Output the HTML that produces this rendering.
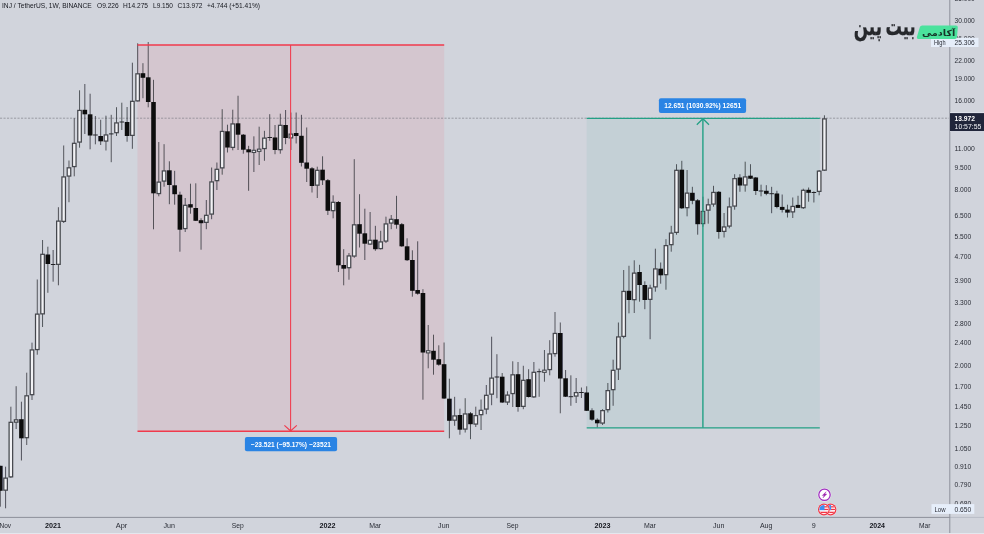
<!DOCTYPE html>
<html lang="fa"><head><meta charset="utf-8"><title>INJ / TetherUS</title>
<style>html,body{margin:0;padding:0;background:#d1d4dc;overflow:hidden}body{width:984px;height:534px;position:relative}svg{display:block;position:absolute;left:0;top:0}text{font-family:"Liberation Sans","DejaVu Sans",sans-serif}.ar{font-family:"DejaVu Sans","Liberation Sans",sans-serif;font-weight:bold}</style>
</head><body>
<svg width="984" height="534" viewBox="0 0 984 534">
<rect x="0" y="0" width="984" height="534" fill="#d1d4dc"/>
<rect x="137.5" y="45.0" width="306.7" height="386.3" fill="#f23645" fill-opacity="0.085"/>
<rect x="586.7" y="118.4" width="233.1" height="309.4" fill="#26a69a" fill-opacity="0.075"/>
<line x1="0" y1="118.2" x2="949" y2="118.2" stroke="#7d7f88" stroke-opacity="0.75" stroke-width="0.9" stroke-dasharray="2.1 1.4"/>
<filter id="sf" x="-5%" y="-5%" width="110%" height="110%"><feGaussianBlur stdDeviation="0.32"/></filter>
<g id="candles" filter="url(#sf)">
<line x1="0.30" y1="465.8" x2="0.30" y2="506.7" stroke="#26282e" stroke-opacity="0.78" stroke-width="0.95"/>
<rect x="-2.00" y="465.8" width="4.60" height="25.0" fill="#0a0a0c"/>
<line x1="5.58" y1="466.7" x2="5.58" y2="508.3" stroke="#26282e" stroke-opacity="0.78" stroke-width="0.95"/>
<rect x="3.81" y="478.12" width="3.55" height="12.05" fill="#f2f2f5" stroke="#45474d" stroke-width="1.25"/>
<line x1="10.87" y1="406.7" x2="10.87" y2="478.0" stroke="#26282e" stroke-opacity="0.78" stroke-width="0.95"/>
<rect x="9.09" y="422.32" width="3.55" height="54.55" fill="#f2f2f5" stroke="#45474d" stroke-width="1.25"/>
<line x1="16.15" y1="386.2" x2="16.15" y2="429.0" stroke="#26282e" stroke-opacity="0.78" stroke-width="0.95"/>
<rect x="14.37" y="419.82" width="3.55" height="2.35" fill="#f2f2f5" stroke="#45474d" stroke-width="1.25"/>
<line x1="21.43" y1="401.7" x2="21.43" y2="460.5" stroke="#26282e" stroke-opacity="0.78" stroke-width="0.95"/>
<rect x="19.13" y="419.2" width="4.60" height="19.1" fill="#0a0a0c"/>
<line x1="26.72" y1="372.7" x2="26.72" y2="445.0" stroke="#26282e" stroke-opacity="0.78" stroke-width="0.95"/>
<rect x="24.94" y="395.82" width="3.55" height="41.85" fill="#f2f2f5" stroke="#45474d" stroke-width="1.25"/>
<line x1="32.00" y1="342.7" x2="32.00" y2="400.0" stroke="#26282e" stroke-opacity="0.78" stroke-width="0.95"/>
<rect x="30.22" y="349.93" width="3.55" height="44.75" fill="#f2f2f5" stroke="#45474d" stroke-width="1.25"/>
<line x1="37.28" y1="279.5" x2="37.28" y2="354.7" stroke="#26282e" stroke-opacity="0.78" stroke-width="0.95"/>
<rect x="35.51" y="314.12" width="3.55" height="35.45" fill="#f2f2f5" stroke="#45474d" stroke-width="1.25"/>
<line x1="42.56" y1="240.0" x2="42.56" y2="327.0" stroke="#26282e" stroke-opacity="0.78" stroke-width="0.95"/>
<rect x="40.79" y="254.32" width="3.55" height="59.55" fill="#f2f2f5" stroke="#45474d" stroke-width="1.25"/>
<line x1="47.85" y1="246.7" x2="47.85" y2="292.8" stroke="#26282e" stroke-opacity="0.78" stroke-width="0.95"/>
<rect x="45.55" y="254.5" width="4.60" height="9.5" fill="#0a0a0c"/>
<line x1="53.13" y1="250.0" x2="53.13" y2="281.7" stroke="#26282e" stroke-opacity="0.78" stroke-width="0.95"/>
<rect x="50.83" y="264.0" width="4.60" height="1.0" fill="#222428"/>
<line x1="58.41" y1="207.2" x2="58.41" y2="285.3" stroke="#26282e" stroke-opacity="0.78" stroke-width="0.95"/>
<rect x="56.64" y="221.12" width="3.55" height="43.25" fill="#f2f2f5" stroke="#45474d" stroke-width="1.25"/>
<line x1="63.70" y1="145.5" x2="63.70" y2="223.0" stroke="#26282e" stroke-opacity="0.78" stroke-width="0.95"/>
<rect x="61.92" y="176.93" width="3.55" height="44.45" fill="#f2f2f5" stroke="#45474d" stroke-width="1.25"/>
<line x1="68.98" y1="160.5" x2="68.98" y2="202.2" stroke="#26282e" stroke-opacity="0.78" stroke-width="0.95"/>
<rect x="67.20" y="167.82" width="3.55" height="8.25" fill="#f2f2f5" stroke="#45474d" stroke-width="1.25"/>
<line x1="74.26" y1="118.2" x2="74.26" y2="176.3" stroke="#26282e" stroke-opacity="0.78" stroke-width="0.95"/>
<rect x="72.49" y="143.32" width="3.55" height="23.25" fill="#f2f2f5" stroke="#45474d" stroke-width="1.25"/>
<line x1="79.55" y1="90.3" x2="79.55" y2="147.7" stroke="#26282e" stroke-opacity="0.78" stroke-width="0.95"/>
<rect x="77.77" y="110.42" width="3.55" height="31.65" fill="#f2f2f5" stroke="#45474d" stroke-width="1.25"/>
<line x1="84.83" y1="84.0" x2="84.83" y2="134.0" stroke="#26282e" stroke-opacity="0.78" stroke-width="0.95"/>
<rect x="82.53" y="109.8" width="4.60" height="4.5" fill="#0a0a0c"/>
<line x1="90.11" y1="93.7" x2="90.11" y2="149.3" stroke="#26282e" stroke-opacity="0.78" stroke-width="0.95"/>
<rect x="87.81" y="114.3" width="4.60" height="21.2" fill="#0a0a0c"/>
<line x1="95.39" y1="116.0" x2="95.39" y2="144.3" stroke="#26282e" stroke-opacity="0.78" stroke-width="0.95"/>
<rect x="93.09" y="134.5" width="4.60" height="1.0" fill="#222428"/>
<line x1="100.68" y1="119.8" x2="100.68" y2="145.0" stroke="#26282e" stroke-opacity="0.78" stroke-width="0.95"/>
<rect x="98.38" y="136.0" width="4.60" height="5.3" fill="#0a0a0c"/>
<line x1="105.96" y1="115.7" x2="105.96" y2="150.5" stroke="#26282e" stroke-opacity="0.78" stroke-width="0.95"/>
<rect x="104.19" y="134.93" width="3.55" height="6.15" fill="#f2f2f5" stroke="#45474d" stroke-width="1.25"/>
<line x1="111.24" y1="114.8" x2="111.24" y2="162.2" stroke="#26282e" stroke-opacity="0.78" stroke-width="0.95"/>
<rect x="108.94" y="133.4" width="4.60" height="1.0" fill="#222428"/>
<line x1="116.53" y1="107.2" x2="116.53" y2="136.0" stroke="#26282e" stroke-opacity="0.78" stroke-width="0.95"/>
<rect x="114.75" y="122.92" width="3.55" height="9.75" fill="#f2f2f5" stroke="#45474d" stroke-width="1.25"/>
<line x1="121.81" y1="102.7" x2="121.81" y2="130.0" stroke="#26282e" stroke-opacity="0.78" stroke-width="0.95"/>
<rect x="119.51" y="121.5" width="4.60" height="1.0" fill="#222428"/>
<line x1="127.09" y1="107.0" x2="127.09" y2="141.7" stroke="#26282e" stroke-opacity="0.78" stroke-width="0.95"/>
<rect x="124.79" y="122.0" width="4.60" height="14.0" fill="#0a0a0c"/>
<line x1="132.38" y1="62.7" x2="132.38" y2="148.8" stroke="#26282e" stroke-opacity="0.78" stroke-width="0.95"/>
<rect x="130.60" y="101.33" width="3.55" height="34.05" fill="#f2f2f5" stroke="#45474d" stroke-width="1.25"/>
<line x1="137.66" y1="43.3" x2="137.66" y2="101.5" stroke="#26282e" stroke-opacity="0.78" stroke-width="0.95"/>
<rect x="135.88" y="73.83" width="3.55" height="27.05" fill="#f2f2f5" stroke="#45474d" stroke-width="1.25"/>
<line x1="142.94" y1="63.2" x2="142.94" y2="98.2" stroke="#26282e" stroke-opacity="0.78" stroke-width="0.95"/>
<rect x="140.64" y="73.2" width="4.60" height="4.6" fill="#0a0a0c"/>
<line x1="148.22" y1="42.0" x2="148.22" y2="107.3" stroke="#26282e" stroke-opacity="0.78" stroke-width="0.95"/>
<rect x="145.92" y="77.3" width="4.60" height="24.7" fill="#0a0a0c"/>
<line x1="153.51" y1="79.8" x2="153.51" y2="229.3" stroke="#26282e" stroke-opacity="0.78" stroke-width="0.95"/>
<rect x="151.21" y="102.0" width="4.60" height="91.3" fill="#0a0a0c"/>
<line x1="158.79" y1="142.0" x2="158.79" y2="196.3" stroke="#26282e" stroke-opacity="0.78" stroke-width="0.95"/>
<rect x="157.02" y="182.12" width="3.55" height="11.45" fill="#f2f2f5" stroke="#45474d" stroke-width="1.25"/>
<line x1="164.07" y1="144.2" x2="164.07" y2="186.7" stroke="#26282e" stroke-opacity="0.78" stroke-width="0.95"/>
<rect x="162.30" y="170.93" width="3.55" height="10.15" fill="#f2f2f5" stroke="#45474d" stroke-width="1.25"/>
<line x1="169.36" y1="161.3" x2="169.36" y2="204.2" stroke="#26282e" stroke-opacity="0.78" stroke-width="0.95"/>
<rect x="167.06" y="170.3" width="4.60" height="14.7" fill="#0a0a0c"/>
<line x1="174.64" y1="170.8" x2="174.64" y2="204.7" stroke="#26282e" stroke-opacity="0.78" stroke-width="0.95"/>
<rect x="172.34" y="185.3" width="4.60" height="8.9" fill="#0a0a0c"/>
<line x1="179.92" y1="191.7" x2="179.92" y2="251.7" stroke="#26282e" stroke-opacity="0.78" stroke-width="0.95"/>
<rect x="177.62" y="194.7" width="4.60" height="35.0" fill="#0a0a0c"/>
<line x1="185.21" y1="198.0" x2="185.21" y2="232.0" stroke="#26282e" stroke-opacity="0.78" stroke-width="0.95"/>
<rect x="183.43" y="205.32" width="3.55" height="23.25" fill="#f2f2f5" stroke="#45474d" stroke-width="1.25"/>
<line x1="190.49" y1="183.7" x2="190.49" y2="213.7" stroke="#26282e" stroke-opacity="0.78" stroke-width="0.95"/>
<rect x="188.19" y="204.2" width="4.60" height="3.3" fill="#0a0a0c"/>
<line x1="195.77" y1="183.3" x2="195.77" y2="221.0" stroke="#26282e" stroke-opacity="0.78" stroke-width="0.95"/>
<rect x="193.47" y="208.0" width="4.60" height="12.8" fill="#0a0a0c"/>
<line x1="201.05" y1="218.3" x2="201.05" y2="249.7" stroke="#26282e" stroke-opacity="0.78" stroke-width="0.95"/>
<rect x="198.75" y="220.2" width="4.60" height="3.0" fill="#0a0a0c"/>
<line x1="206.34" y1="200.0" x2="206.34" y2="229.2" stroke="#26282e" stroke-opacity="0.78" stroke-width="0.95"/>
<rect x="204.56" y="215.32" width="3.55" height="7.05" fill="#f2f2f5" stroke="#45474d" stroke-width="1.25"/>
<line x1="211.62" y1="167.5" x2="211.62" y2="219.2" stroke="#26282e" stroke-opacity="0.78" stroke-width="0.95"/>
<rect x="209.85" y="181.93" width="3.55" height="32.15" fill="#f2f2f5" stroke="#45474d" stroke-width="1.25"/>
<line x1="216.90" y1="162.5" x2="216.90" y2="190.0" stroke="#26282e" stroke-opacity="0.78" stroke-width="0.95"/>
<rect x="215.13" y="169.32" width="3.55" height="11.35" fill="#f2f2f5" stroke="#45474d" stroke-width="1.25"/>
<line x1="222.19" y1="109.2" x2="222.19" y2="174.7" stroke="#26282e" stroke-opacity="0.78" stroke-width="0.95"/>
<rect x="220.41" y="131.43" width="3.55" height="36.45" fill="#f2f2f5" stroke="#45474d" stroke-width="1.25"/>
<line x1="227.47" y1="124.7" x2="227.47" y2="152.5" stroke="#26282e" stroke-opacity="0.78" stroke-width="0.95"/>
<rect x="225.17" y="131.3" width="4.60" height="16.2" fill="#0a0a0c"/>
<line x1="232.75" y1="109.7" x2="232.75" y2="150.3" stroke="#26282e" stroke-opacity="0.78" stroke-width="0.95"/>
<rect x="230.98" y="123.92" width="3.55" height="23.45" fill="#f2f2f5" stroke="#45474d" stroke-width="1.25"/>
<line x1="238.04" y1="95.8" x2="238.04" y2="150.0" stroke="#26282e" stroke-opacity="0.78" stroke-width="0.95"/>
<rect x="235.74" y="123.3" width="4.60" height="11.4" fill="#0a0a0c"/>
<line x1="243.32" y1="134.0" x2="243.32" y2="153.7" stroke="#26282e" stroke-opacity="0.78" stroke-width="0.95"/>
<rect x="241.02" y="134.7" width="4.60" height="15.0" fill="#0a0a0c"/>
<line x1="248.60" y1="145.8" x2="248.60" y2="190.8" stroke="#26282e" stroke-opacity="0.78" stroke-width="0.95"/>
<rect x="246.30" y="149.3" width="4.60" height="3.0" fill="#0a0a0c"/>
<line x1="253.88" y1="136.3" x2="253.88" y2="172.0" stroke="#26282e" stroke-opacity="0.78" stroke-width="0.95"/>
<rect x="252.13" y="150.30" width="3.50" height="2.20" fill="#f2f2f5" stroke="#45474d" stroke-width="1.10"/>
<line x1="259.17" y1="126.7" x2="259.17" y2="165.0" stroke="#26282e" stroke-opacity="0.78" stroke-width="0.95"/>
<rect x="257.42" y="149.15" width="3.50" height="2.20" fill="#f2f2f5" stroke="#45474d" stroke-width="1.10"/>
<line x1="264.45" y1="130.8" x2="264.45" y2="160.8" stroke="#26282e" stroke-opacity="0.78" stroke-width="0.95"/>
<rect x="262.68" y="138.12" width="3.55" height="10.45" fill="#f2f2f5" stroke="#45474d" stroke-width="1.25"/>
<line x1="269.73" y1="114.2" x2="269.73" y2="140.8" stroke="#26282e" stroke-opacity="0.78" stroke-width="0.95"/>
<rect x="267.43" y="137.0" width="4.60" height="1.0" fill="#222428"/>
<line x1="275.02" y1="125.0" x2="275.02" y2="154.2" stroke="#26282e" stroke-opacity="0.78" stroke-width="0.95"/>
<rect x="272.72" y="137.5" width="4.60" height="12.5" fill="#0a0a0c"/>
<line x1="280.30" y1="113.7" x2="280.30" y2="153.7" stroke="#26282e" stroke-opacity="0.78" stroke-width="0.95"/>
<rect x="278.52" y="125.33" width="3.55" height="24.35" fill="#f2f2f5" stroke="#45474d" stroke-width="1.25"/>
<line x1="285.58" y1="110.0" x2="285.58" y2="144.2" stroke="#26282e" stroke-opacity="0.78" stroke-width="0.95"/>
<rect x="283.28" y="125.0" width="4.60" height="13.0" fill="#0a0a0c"/>
<line x1="290.87" y1="112.5" x2="290.87" y2="150.0" stroke="#26282e" stroke-opacity="0.78" stroke-width="0.95"/>
<rect x="289.09" y="134.12" width="3.55" height="3.75" fill="#f2f2f5" stroke="#45474d" stroke-width="1.25"/>
<line x1="296.15" y1="112.5" x2="296.15" y2="143.5" stroke="#26282e" stroke-opacity="0.78" stroke-width="0.95"/>
<rect x="293.85" y="133.0" width="4.60" height="3.0" fill="#0a0a0c"/>
<line x1="301.43" y1="114.8" x2="301.43" y2="166.5" stroke="#26282e" stroke-opacity="0.78" stroke-width="0.95"/>
<rect x="299.13" y="135.8" width="4.60" height="27.0" fill="#0a0a0c"/>
<line x1="306.71" y1="127.5" x2="306.71" y2="182.0" stroke="#26282e" stroke-opacity="0.78" stroke-width="0.95"/>
<rect x="304.41" y="162.5" width="4.60" height="6.2" fill="#0a0a0c"/>
<line x1="312.00" y1="167.0" x2="312.00" y2="192.5" stroke="#26282e" stroke-opacity="0.78" stroke-width="0.95"/>
<rect x="309.70" y="168.3" width="4.60" height="17.7" fill="#0a0a0c"/>
<line x1="317.28" y1="166.7" x2="317.28" y2="198.0" stroke="#26282e" stroke-opacity="0.78" stroke-width="0.95"/>
<rect x="315.51" y="170.32" width="3.55" height="14.85" fill="#f2f2f5" stroke="#45474d" stroke-width="1.25"/>
<line x1="322.56" y1="156.3" x2="322.56" y2="185.0" stroke="#26282e" stroke-opacity="0.78" stroke-width="0.95"/>
<rect x="320.26" y="169.7" width="4.60" height="10.6" fill="#0a0a0c"/>
<line x1="327.85" y1="179.0" x2="327.85" y2="215.0" stroke="#26282e" stroke-opacity="0.78" stroke-width="0.95"/>
<rect x="325.55" y="180.2" width="4.60" height="30.6" fill="#0a0a0c"/>
<line x1="333.13" y1="195.3" x2="333.13" y2="218.3" stroke="#26282e" stroke-opacity="0.78" stroke-width="0.95"/>
<rect x="331.35" y="202.32" width="3.55" height="8.35" fill="#f2f2f5" stroke="#45474d" stroke-width="1.25"/>
<line x1="338.41" y1="201.0" x2="338.41" y2="272.0" stroke="#26282e" stroke-opacity="0.78" stroke-width="0.95"/>
<rect x="336.11" y="202.0" width="4.60" height="63.3" fill="#0a0a0c"/>
<line x1="343.70" y1="249.2" x2="343.70" y2="285.3" stroke="#26282e" stroke-opacity="0.78" stroke-width="0.95"/>
<rect x="341.40" y="265.0" width="4.60" height="3.7" fill="#0a0a0c"/>
<line x1="348.98" y1="253.0" x2="348.98" y2="279.7" stroke="#26282e" stroke-opacity="0.78" stroke-width="0.95"/>
<rect x="347.20" y="255.93" width="3.55" height="11.75" fill="#f2f2f5" stroke="#45474d" stroke-width="1.25"/>
<line x1="354.26" y1="159.2" x2="354.26" y2="257.8" stroke="#26282e" stroke-opacity="0.78" stroke-width="0.95"/>
<rect x="352.49" y="224.82" width="3.55" height="31.25" fill="#f2f2f5" stroke="#45474d" stroke-width="1.25"/>
<line x1="359.54" y1="194.2" x2="359.54" y2="247.5" stroke="#26282e" stroke-opacity="0.78" stroke-width="0.95"/>
<rect x="357.24" y="224.2" width="4.60" height="9.5" fill="#0a0a0c"/>
<line x1="364.83" y1="208.7" x2="364.83" y2="260.0" stroke="#26282e" stroke-opacity="0.78" stroke-width="0.95"/>
<rect x="362.53" y="233.3" width="4.60" height="10.4" fill="#0a0a0c"/>
<line x1="370.11" y1="212.0" x2="370.11" y2="245.0" stroke="#26282e" stroke-opacity="0.78" stroke-width="0.95"/>
<rect x="368.34" y="240.32" width="3.55" height="3.75" fill="#f2f2f5" stroke="#45474d" stroke-width="1.25"/>
<line x1="375.39" y1="225.8" x2="375.39" y2="250.8" stroke="#26282e" stroke-opacity="0.78" stroke-width="0.95"/>
<rect x="373.09" y="239.7" width="4.60" height="9.5" fill="#0a0a0c"/>
<line x1="380.68" y1="230.8" x2="380.68" y2="249.5" stroke="#26282e" stroke-opacity="0.78" stroke-width="0.95"/>
<rect x="378.90" y="241.93" width="3.55" height="6.65" fill="#f2f2f5" stroke="#45474d" stroke-width="1.25"/>
<line x1="385.96" y1="216.7" x2="385.96" y2="243.0" stroke="#26282e" stroke-opacity="0.78" stroke-width="0.95"/>
<rect x="384.18" y="223.93" width="3.55" height="17.15" fill="#f2f2f5" stroke="#45474d" stroke-width="1.25"/>
<line x1="391.24" y1="215.0" x2="391.24" y2="229.2" stroke="#26282e" stroke-opacity="0.78" stroke-width="0.95"/>
<rect x="389.47" y="219.32" width="3.55" height="3.75" fill="#f2f2f5" stroke="#45474d" stroke-width="1.25"/>
<line x1="396.53" y1="195.8" x2="396.53" y2="228.7" stroke="#26282e" stroke-opacity="0.78" stroke-width="0.95"/>
<rect x="394.23" y="219.2" width="4.60" height="5.5" fill="#0a0a0c"/>
<line x1="401.81" y1="223.0" x2="401.81" y2="247.0" stroke="#26282e" stroke-opacity="0.78" stroke-width="0.95"/>
<rect x="399.51" y="224.2" width="4.60" height="22.1" fill="#0a0a0c"/>
<line x1="407.09" y1="238.3" x2="407.09" y2="261.0" stroke="#26282e" stroke-opacity="0.78" stroke-width="0.95"/>
<rect x="404.79" y="246.3" width="4.60" height="13.9" fill="#0a0a0c"/>
<line x1="412.37" y1="250.3" x2="412.37" y2="296.7" stroke="#26282e" stroke-opacity="0.78" stroke-width="0.95"/>
<rect x="410.07" y="260.0" width="4.60" height="30.8" fill="#0a0a0c"/>
<line x1="417.66" y1="241.3" x2="417.66" y2="294.7" stroke="#26282e" stroke-opacity="0.78" stroke-width="0.95"/>
<rect x="415.36" y="290.0" width="4.60" height="3.7" fill="#0a0a0c"/>
<line x1="422.94" y1="289.2" x2="422.94" y2="399.7" stroke="#26282e" stroke-opacity="0.78" stroke-width="0.95"/>
<rect x="420.64" y="293.0" width="4.60" height="59.5" fill="#0a0a0c"/>
<line x1="428.22" y1="325.0" x2="428.22" y2="368.3" stroke="#26282e" stroke-opacity="0.78" stroke-width="0.95"/>
<rect x="426.47" y="350.70" width="3.50" height="2.20" fill="#f2f2f5" stroke="#45474d" stroke-width="1.10"/>
<line x1="433.51" y1="334.7" x2="433.51" y2="374.7" stroke="#26282e" stroke-opacity="0.78" stroke-width="0.95"/>
<rect x="431.21" y="350.8" width="4.60" height="8.9" fill="#0a0a0c"/>
<line x1="438.79" y1="345.3" x2="438.79" y2="365.8" stroke="#26282e" stroke-opacity="0.78" stroke-width="0.95"/>
<rect x="436.49" y="359.2" width="4.60" height="5.5" fill="#0a0a0c"/>
<line x1="444.07" y1="342.5" x2="444.07" y2="399.0" stroke="#26282e" stroke-opacity="0.78" stroke-width="0.95"/>
<rect x="441.77" y="364.2" width="4.60" height="34.3" fill="#0a0a0c"/>
<line x1="449.36" y1="378.7" x2="449.36" y2="438.3" stroke="#26282e" stroke-opacity="0.78" stroke-width="0.95"/>
<rect x="447.06" y="398.7" width="4.60" height="22.1" fill="#0a0a0c"/>
<line x1="454.64" y1="396.8" x2="454.64" y2="425.8" stroke="#26282e" stroke-opacity="0.78" stroke-width="0.95"/>
<rect x="452.86" y="415.93" width="3.55" height="4.25" fill="#f2f2f5" stroke="#45474d" stroke-width="1.25"/>
<line x1="459.92" y1="408.7" x2="459.92" y2="434.7" stroke="#26282e" stroke-opacity="0.78" stroke-width="0.95"/>
<rect x="457.62" y="415.0" width="4.60" height="14.7" fill="#0a0a0c"/>
<line x1="465.20" y1="398.2" x2="465.20" y2="432.5" stroke="#26282e" stroke-opacity="0.78" stroke-width="0.95"/>
<rect x="463.43" y="413.93" width="3.55" height="15.15" fill="#f2f2f5" stroke="#45474d" stroke-width="1.25"/>
<line x1="470.49" y1="412.0" x2="470.49" y2="439.2" stroke="#26282e" stroke-opacity="0.78" stroke-width="0.95"/>
<rect x="468.19" y="413.3" width="4.60" height="10.9" fill="#0a0a0c"/>
<line x1="475.77" y1="406.7" x2="475.77" y2="427.0" stroke="#26282e" stroke-opacity="0.78" stroke-width="0.95"/>
<rect x="474.00" y="415.62" width="3.55" height="8.45" fill="#f2f2f5" stroke="#45474d" stroke-width="1.25"/>
<line x1="481.05" y1="399.5" x2="481.05" y2="430.0" stroke="#26282e" stroke-opacity="0.78" stroke-width="0.95"/>
<rect x="479.28" y="410.32" width="3.55" height="4.35" fill="#f2f2f5" stroke="#45474d" stroke-width="1.25"/>
<line x1="486.34" y1="385.0" x2="486.34" y2="414.2" stroke="#26282e" stroke-opacity="0.78" stroke-width="0.95"/>
<rect x="484.56" y="395.32" width="3.55" height="13.75" fill="#f2f2f5" stroke="#45474d" stroke-width="1.25"/>
<line x1="491.62" y1="336.7" x2="491.62" y2="405.2" stroke="#26282e" stroke-opacity="0.78" stroke-width="0.95"/>
<rect x="489.84" y="378.12" width="3.55" height="16.05" fill="#f2f2f5" stroke="#45474d" stroke-width="1.25"/>
<line x1="496.90" y1="354.2" x2="496.90" y2="398.2" stroke="#26282e" stroke-opacity="0.78" stroke-width="0.95"/>
<rect x="494.60" y="376.5" width="4.60" height="1.0" fill="#222428"/>
<line x1="502.19" y1="373.0" x2="502.19" y2="403.0" stroke="#26282e" stroke-opacity="0.78" stroke-width="0.95"/>
<rect x="499.89" y="376.7" width="4.60" height="25.8" fill="#0a0a0c"/>
<line x1="507.47" y1="391.3" x2="507.47" y2="405.0" stroke="#26282e" stroke-opacity="0.78" stroke-width="0.95"/>
<rect x="505.69" y="395.12" width="3.55" height="6.95" fill="#f2f2f5" stroke="#45474d" stroke-width="1.25"/>
<line x1="512.75" y1="361.3" x2="512.75" y2="407.0" stroke="#26282e" stroke-opacity="0.78" stroke-width="0.95"/>
<rect x="510.98" y="374.82" width="3.55" height="18.75" fill="#f2f2f5" stroke="#45474d" stroke-width="1.25"/>
<line x1="518.03" y1="362.0" x2="518.03" y2="411.7" stroke="#26282e" stroke-opacity="0.78" stroke-width="0.95"/>
<rect x="515.73" y="374.2" width="4.60" height="32.8" fill="#0a0a0c"/>
<line x1="523.32" y1="365.8" x2="523.32" y2="409.2" stroke="#26282e" stroke-opacity="0.78" stroke-width="0.95"/>
<rect x="521.54" y="380.32" width="3.55" height="26.05" fill="#f2f2f5" stroke="#45474d" stroke-width="1.25"/>
<line x1="528.60" y1="369.2" x2="528.60" y2="397.5" stroke="#26282e" stroke-opacity="0.78" stroke-width="0.95"/>
<rect x="526.30" y="379.2" width="4.60" height="17.8" fill="#0a0a0c"/>
<line x1="533.88" y1="362.0" x2="533.88" y2="398.0" stroke="#26282e" stroke-opacity="0.78" stroke-width="0.95"/>
<rect x="532.11" y="372.32" width="3.55" height="24.55" fill="#f2f2f5" stroke="#45474d" stroke-width="1.25"/>
<line x1="539.17" y1="368.7" x2="539.17" y2="396.8" stroke="#26282e" stroke-opacity="0.78" stroke-width="0.95"/>
<rect x="536.87" y="371.2" width="4.60" height="1.0" fill="#222428"/>
<line x1="544.45" y1="350.0" x2="544.45" y2="381.7" stroke="#26282e" stroke-opacity="0.78" stroke-width="0.95"/>
<rect x="542.70" y="370.15" width="3.50" height="2.20" fill="#f2f2f5" stroke="#45474d" stroke-width="1.10"/>
<line x1="549.73" y1="340.2" x2="549.73" y2="375.3" stroke="#26282e" stroke-opacity="0.78" stroke-width="0.95"/>
<rect x="547.96" y="353.93" width="3.55" height="15.65" fill="#f2f2f5" stroke="#45474d" stroke-width="1.25"/>
<line x1="555.01" y1="312.0" x2="555.01" y2="356.7" stroke="#26282e" stroke-opacity="0.78" stroke-width="0.95"/>
<rect x="553.24" y="333.43" width="3.55" height="20.15" fill="#f2f2f5" stroke="#45474d" stroke-width="1.25"/>
<line x1="560.30" y1="322.5" x2="560.30" y2="413.3" stroke="#26282e" stroke-opacity="0.78" stroke-width="0.95"/>
<rect x="558.00" y="333.0" width="4.60" height="45.5" fill="#0a0a0c"/>
<line x1="565.58" y1="370.0" x2="565.58" y2="397.0" stroke="#26282e" stroke-opacity="0.78" stroke-width="0.95"/>
<rect x="563.28" y="378.3" width="4.60" height="18.4" fill="#0a0a0c"/>
<line x1="570.86" y1="375.3" x2="570.86" y2="405.8" stroke="#26282e" stroke-opacity="0.78" stroke-width="0.95"/>
<rect x="568.56" y="396.2" width="4.60" height="1.0" fill="#222428"/>
<line x1="576.15" y1="378.0" x2="576.15" y2="403.0" stroke="#26282e" stroke-opacity="0.78" stroke-width="0.95"/>
<rect x="574.37" y="392.62" width="3.55" height="3.45" fill="#f2f2f5" stroke="#45474d" stroke-width="1.25"/>
<line x1="581.43" y1="387.5" x2="581.43" y2="398.0" stroke="#26282e" stroke-opacity="0.78" stroke-width="0.95"/>
<rect x="579.13" y="392.0" width="4.60" height="1.0" fill="#222428"/>
<line x1="586.71" y1="386.3" x2="586.71" y2="411.0" stroke="#26282e" stroke-opacity="0.78" stroke-width="0.95"/>
<rect x="584.41" y="392.5" width="4.60" height="18.3" fill="#0a0a0c"/>
<line x1="592.00" y1="408.3" x2="592.00" y2="420.8" stroke="#26282e" stroke-opacity="0.78" stroke-width="0.95"/>
<rect x="589.70" y="410.3" width="4.60" height="9.4" fill="#0a0a0c"/>
<line x1="597.28" y1="418.3" x2="597.28" y2="427.5" stroke="#26282e" stroke-opacity="0.78" stroke-width="0.95"/>
<rect x="594.98" y="419.7" width="4.60" height="3.6" fill="#0a0a0c"/>
<line x1="602.56" y1="409.2" x2="602.56" y2="425.0" stroke="#26282e" stroke-opacity="0.78" stroke-width="0.95"/>
<rect x="600.79" y="410.62" width="3.55" height="12.45" fill="#f2f2f5" stroke="#45474d" stroke-width="1.25"/>
<line x1="607.85" y1="383.0" x2="607.85" y2="412.5" stroke="#26282e" stroke-opacity="0.78" stroke-width="0.95"/>
<rect x="606.07" y="390.62" width="3.55" height="19.05" fill="#f2f2f5" stroke="#45474d" stroke-width="1.25"/>
<line x1="613.13" y1="359.7" x2="613.13" y2="405.8" stroke="#26282e" stroke-opacity="0.78" stroke-width="0.95"/>
<rect x="611.35" y="370.32" width="3.55" height="19.35" fill="#f2f2f5" stroke="#45474d" stroke-width="1.25"/>
<line x1="618.41" y1="322.5" x2="618.41" y2="380.0" stroke="#26282e" stroke-opacity="0.78" stroke-width="0.95"/>
<rect x="616.64" y="336.93" width="3.55" height="32.15" fill="#f2f2f5" stroke="#45474d" stroke-width="1.25"/>
<line x1="623.69" y1="270.0" x2="623.69" y2="338.3" stroke="#26282e" stroke-opacity="0.78" stroke-width="0.95"/>
<rect x="621.92" y="291.43" width="3.55" height="44.95" fill="#f2f2f5" stroke="#45474d" stroke-width="1.25"/>
<line x1="628.98" y1="265.8" x2="628.98" y2="313.3" stroke="#26282e" stroke-opacity="0.78" stroke-width="0.95"/>
<rect x="626.68" y="290.8" width="4.60" height="9.2" fill="#0a0a0c"/>
<line x1="634.26" y1="260.3" x2="634.26" y2="313.0" stroke="#26282e" stroke-opacity="0.78" stroke-width="0.95"/>
<rect x="632.49" y="273.12" width="3.55" height="26.55" fill="#f2f2f5" stroke="#45474d" stroke-width="1.25"/>
<line x1="639.54" y1="264.8" x2="639.54" y2="301.7" stroke="#26282e" stroke-opacity="0.78" stroke-width="0.95"/>
<rect x="637.24" y="272.0" width="4.60" height="13.0" fill="#0a0a0c"/>
<line x1="644.83" y1="281.3" x2="644.83" y2="309.2" stroke="#26282e" stroke-opacity="0.78" stroke-width="0.95"/>
<rect x="642.53" y="285.0" width="4.60" height="15.0" fill="#0a0a0c"/>
<line x1="650.11" y1="284.7" x2="650.11" y2="339.2" stroke="#26282e" stroke-opacity="0.78" stroke-width="0.95"/>
<rect x="648.33" y="288.12" width="3.55" height="11.25" fill="#f2f2f5" stroke="#45474d" stroke-width="1.25"/>
<line x1="655.39" y1="248.7" x2="655.39" y2="291.7" stroke="#26282e" stroke-opacity="0.78" stroke-width="0.95"/>
<rect x="653.62" y="268.93" width="3.55" height="17.95" fill="#f2f2f5" stroke="#45474d" stroke-width="1.25"/>
<line x1="660.67" y1="262.5" x2="660.67" y2="283.7" stroke="#26282e" stroke-opacity="0.78" stroke-width="0.95"/>
<rect x="658.38" y="268.7" width="4.60" height="6.6" fill="#0a0a0c"/>
<line x1="665.96" y1="239.2" x2="665.96" y2="289.7" stroke="#26282e" stroke-opacity="0.78" stroke-width="0.95"/>
<rect x="664.18" y="245.62" width="3.55" height="29.05" fill="#f2f2f5" stroke="#45474d" stroke-width="1.25"/>
<line x1="671.24" y1="225.8" x2="671.24" y2="251.7" stroke="#26282e" stroke-opacity="0.78" stroke-width="0.95"/>
<rect x="669.47" y="233.12" width="3.55" height="11.55" fill="#f2f2f5" stroke="#45474d" stroke-width="1.25"/>
<line x1="676.52" y1="164.2" x2="676.52" y2="234.7" stroke="#26282e" stroke-opacity="0.78" stroke-width="0.95"/>
<rect x="674.75" y="170.32" width="3.55" height="62.05" fill="#f2f2f5" stroke="#45474d" stroke-width="1.25"/>
<line x1="681.81" y1="160.8" x2="681.81" y2="209.0" stroke="#26282e" stroke-opacity="0.78" stroke-width="0.95"/>
<rect x="679.51" y="169.7" width="4.60" height="38.6" fill="#0a0a0c"/>
<line x1="687.09" y1="170.0" x2="687.09" y2="216.3" stroke="#26282e" stroke-opacity="0.78" stroke-width="0.95"/>
<rect x="685.32" y="193.12" width="3.55" height="14.55" fill="#f2f2f5" stroke="#45474d" stroke-width="1.25"/>
<line x1="692.37" y1="186.8" x2="692.37" y2="204.2" stroke="#26282e" stroke-opacity="0.78" stroke-width="0.95"/>
<rect x="690.07" y="192.8" width="4.60" height="8.0" fill="#0a0a0c"/>
<line x1="697.66" y1="199.0" x2="697.66" y2="234.7" stroke="#26282e" stroke-opacity="0.78" stroke-width="0.95"/>
<rect x="695.36" y="200.3" width="4.60" height="23.9" fill="#0a0a0c"/>
<line x1="702.94" y1="196.7" x2="702.94" y2="226.7" stroke="#26282e" stroke-opacity="0.78" stroke-width="0.95"/>
<rect x="701.16" y="211.43" width="3.55" height="12.15" fill="#f2f2f5" stroke="#45474d" stroke-width="1.25"/>
<line x1="708.22" y1="198.7" x2="708.22" y2="223.7" stroke="#26282e" stroke-opacity="0.78" stroke-width="0.95"/>
<rect x="706.45" y="204.82" width="3.55" height="5.35" fill="#f2f2f5" stroke="#45474d" stroke-width="1.25"/>
<line x1="713.50" y1="185.8" x2="713.50" y2="206.7" stroke="#26282e" stroke-opacity="0.78" stroke-width="0.95"/>
<rect x="711.73" y="192.43" width="3.55" height="11.65" fill="#f2f2f5" stroke="#45474d" stroke-width="1.25"/>
<line x1="718.79" y1="191.0" x2="718.79" y2="238.7" stroke="#26282e" stroke-opacity="0.78" stroke-width="0.95"/>
<rect x="716.49" y="191.8" width="4.60" height="40.2" fill="#0a0a0c"/>
<line x1="724.07" y1="213.0" x2="724.07" y2="237.5" stroke="#26282e" stroke-opacity="0.78" stroke-width="0.95"/>
<rect x="722.30" y="226.93" width="3.55" height="4.45" fill="#f2f2f5" stroke="#45474d" stroke-width="1.25"/>
<line x1="729.35" y1="197.5" x2="729.35" y2="228.3" stroke="#26282e" stroke-opacity="0.78" stroke-width="0.95"/>
<rect x="727.58" y="206.93" width="3.55" height="19.15" fill="#f2f2f5" stroke="#45474d" stroke-width="1.25"/>
<line x1="734.64" y1="174.2" x2="734.64" y2="209.7" stroke="#26282e" stroke-opacity="0.78" stroke-width="0.95"/>
<rect x="732.86" y="178.62" width="3.55" height="27.45" fill="#f2f2f5" stroke="#45474d" stroke-width="1.25"/>
<line x1="739.92" y1="174.2" x2="739.92" y2="191.8" stroke="#26282e" stroke-opacity="0.78" stroke-width="0.95"/>
<rect x="737.62" y="177.5" width="4.60" height="8.0" fill="#0a0a0c"/>
<line x1="745.20" y1="161.7" x2="745.20" y2="191.7" stroke="#26282e" stroke-opacity="0.78" stroke-width="0.95"/>
<rect x="743.43" y="176.93" width="3.55" height="8.05" fill="#f2f2f5" stroke="#45474d" stroke-width="1.25"/>
<line x1="750.49" y1="164.2" x2="750.49" y2="179.0" stroke="#26282e" stroke-opacity="0.78" stroke-width="0.95"/>
<rect x="748.19" y="175.7" width="4.60" height="3.0" fill="#0a0a0c"/>
<line x1="755.77" y1="177.0" x2="755.77" y2="195.0" stroke="#26282e" stroke-opacity="0.78" stroke-width="0.95"/>
<rect x="753.47" y="177.5" width="4.60" height="13.5" fill="#0a0a0c"/>
<line x1="761.05" y1="184.7" x2="761.05" y2="196.3" stroke="#26282e" stroke-opacity="0.78" stroke-width="0.95"/>
<rect x="758.75" y="190.5" width="4.60" height="1.0" fill="#222428"/>
<line x1="766.34" y1="185.2" x2="766.34" y2="195.2" stroke="#26282e" stroke-opacity="0.78" stroke-width="0.95"/>
<rect x="764.04" y="190.8" width="4.60" height="3.0" fill="#0a0a0c"/>
<line x1="771.62" y1="186.8" x2="771.62" y2="213.2" stroke="#26282e" stroke-opacity="0.78" stroke-width="0.95"/>
<rect x="769.32" y="193.2" width="4.60" height="1.0" fill="#222428"/>
<line x1="776.90" y1="190.8" x2="776.90" y2="208.3" stroke="#26282e" stroke-opacity="0.78" stroke-width="0.95"/>
<rect x="774.60" y="193.5" width="4.60" height="13.5" fill="#0a0a0c"/>
<line x1="782.18" y1="194.5" x2="782.18" y2="212.5" stroke="#26282e" stroke-opacity="0.78" stroke-width="0.95"/>
<rect x="779.88" y="206.9" width="4.60" height="3.0" fill="#0a0a0c"/>
<line x1="787.47" y1="204.7" x2="787.47" y2="217.5" stroke="#26282e" stroke-opacity="0.78" stroke-width="0.95"/>
<rect x="785.17" y="209.6" width="4.60" height="3.0" fill="#0a0a0c"/>
<line x1="792.75" y1="197.5" x2="792.75" y2="218.0" stroke="#26282e" stroke-opacity="0.78" stroke-width="0.95"/>
<rect x="790.98" y="206.43" width="3.55" height="5.45" fill="#f2f2f5" stroke="#45474d" stroke-width="1.25"/>
<line x1="798.03" y1="195.8" x2="798.03" y2="208.0" stroke="#26282e" stroke-opacity="0.78" stroke-width="0.95"/>
<rect x="795.73" y="204.9" width="4.60" height="3.0" fill="#0a0a0c"/>
<line x1="803.32" y1="188.7" x2="803.32" y2="209.0" stroke="#26282e" stroke-opacity="0.78" stroke-width="0.95"/>
<rect x="801.54" y="190.32" width="3.55" height="17.35" fill="#f2f2f5" stroke="#45474d" stroke-width="1.25"/>
<line x1="808.60" y1="187.5" x2="808.60" y2="201.7" stroke="#26282e" stroke-opacity="0.78" stroke-width="0.95"/>
<rect x="806.30" y="189.8" width="4.60" height="3.0" fill="#0a0a0c"/>
<line x1="813.88" y1="191.3" x2="813.88" y2="202.5" stroke="#26282e" stroke-opacity="0.78" stroke-width="0.95"/>
<rect x="811.58" y="192.0" width="4.60" height="1.0" fill="#222428"/>
<line x1="819.16" y1="170.0" x2="819.16" y2="195.3" stroke="#26282e" stroke-opacity="0.78" stroke-width="0.95"/>
<rect x="817.39" y="171.12" width="3.55" height="20.25" fill="#f2f2f5" stroke="#45474d" stroke-width="1.25"/>
<line x1="824.45" y1="115.3" x2="824.45" y2="171.0" stroke="#26282e" stroke-opacity="0.78" stroke-width="0.95"/>
<rect x="822.67" y="118.92" width="3.55" height="51.25" fill="#f2f2f5" stroke="#45474d" stroke-width="1.25"/>
</g>
<g stroke="#f03a4c" stroke-width="1.4" fill="none">
<line x1="137.5" y1="45.0" x2="444.2" y2="45.0"/>
<line x1="137.5" y1="431.3" x2="444.2" y2="431.3"/>
<line x1="290.6" y1="45.0" x2="290.6" y2="431.3" stroke-width="1.05"/>
<polyline points="284.4,425.3 290.6,431 296.8,425.3" stroke-width="1.15"/>
</g>
<g stroke="#22a085" stroke-width="1.25" fill="none">
<line x1="586.7" y1="118.4" x2="819.8" y2="118.4"/>
<line x1="586.7" y1="427.8" x2="819.8" y2="427.8"/>
<line x1="702.9" y1="118.4" x2="702.9" y2="427.8" stroke-width="1.4"/>
<polyline points="696.8,124.7 702.9,118.7 709,124.7" stroke-width="1.25"/>
</g>
<rect x="658.9" y="98.2" width="87.2" height="14.7" rx="2" fill="#2a84e4"/>
<text x="664.2" y="108.0" font-size="7.20" fill="#ffffff" font-weight="bold" textLength="76.9" lengthAdjust="spacingAndGlyphs">12.651 (1030.92%) 12651</text>
<rect x="244.9" y="437" width="92.2" height="14.3" rx="2" fill="#2a84e4"/>
<text x="250.8" y="446.8" font-size="7.20" fill="#ffffff" font-weight="bold" textLength="80.2" lengthAdjust="spacingAndGlyphs">−23.521 (−95.17%) −23521</text>
<text x="2.0" y="8.3" font-size="7.70" fill="#16181f" textLength="89.7" lengthAdjust="spacingAndGlyphs">INJ / TetherUS, 1W, BINANCE</text>
<text x="97.0" y="8.3" font-size="7.70" fill="#16181f" textLength="21.7" lengthAdjust="spacingAndGlyphs">O9.226</text>
<text x="123.0" y="8.3" font-size="7.70" fill="#16181f" textLength="25.0" lengthAdjust="spacingAndGlyphs">H14.275</text>
<text x="153.0" y="8.3" font-size="7.70" fill="#16181f" textLength="20.0" lengthAdjust="spacingAndGlyphs">L9.150</text>
<text x="177.5" y="8.3" font-size="7.70" fill="#16181f" textLength="25.0" lengthAdjust="spacingAndGlyphs">C13.972</text>
<text x="207.0" y="8.3" font-size="7.70" fill="#16181f" textLength="53.0" lengthAdjust="spacingAndGlyphs">+4.744 (+51.41%)</text>
<line x1="0" y1="517.4" x2="950" y2="517.4" stroke="#8d909a" stroke-width="1"/>
<line x1="950" y1="517.4" x2="984" y2="517.4" stroke="#b9bcc6" stroke-width="1"/>
<line x1="949.8" y1="0" x2="949.8" y2="533" stroke="#8d909a" stroke-width="1"/>
<rect x="0" y="533" width="984" height="1" fill="#e4e7ee"/>
<text x="-0.5" y="527.8" font-size="7.00" fill="#2a2d36" textLength="11.5" lengthAdjust="spacingAndGlyphs">Nov</text>
<text x="45.0" y="527.8" font-size="7.00" fill="#15171e" font-weight="bold" textLength="16.0" lengthAdjust="spacingAndGlyphs">2021</text>
<text x="115.8" y="527.8" font-size="7.00" fill="#2a2d36" textLength="11.5" lengthAdjust="spacingAndGlyphs">Apr</text>
<text x="163.4" y="527.8" font-size="7.00" fill="#2a2d36" textLength="11.5" lengthAdjust="spacingAndGlyphs">Jun</text>
<text x="231.8" y="527.8" font-size="7.00" fill="#2a2d36" textLength="12.0" lengthAdjust="spacingAndGlyphs">Sep</text>
<text x="319.6" y="527.8" font-size="7.00" fill="#15171e" font-weight="bold" textLength="16.0" lengthAdjust="spacingAndGlyphs">2022</text>
<text x="369.2" y="527.8" font-size="7.00" fill="#2a2d36" textLength="12.0" lengthAdjust="spacingAndGlyphs">Mar</text>
<text x="438.1" y="527.8" font-size="7.00" fill="#2a2d36" textLength="11.5" lengthAdjust="spacingAndGlyphs">Jun</text>
<text x="506.6" y="527.8" font-size="7.00" fill="#2a2d36" textLength="12.0" lengthAdjust="spacingAndGlyphs">Sep</text>
<text x="594.4" y="527.8" font-size="7.00" fill="#15171e" font-weight="bold" textLength="16.0" lengthAdjust="spacingAndGlyphs">2023</text>
<text x="643.9" y="527.8" font-size="7.00" fill="#2a2d36" textLength="12.0" lengthAdjust="spacingAndGlyphs">Mar</text>
<text x="712.9" y="527.8" font-size="7.00" fill="#2a2d36" textLength="11.5" lengthAdjust="spacingAndGlyphs">Jun</text>
<text x="759.9" y="527.8" font-size="7.00" fill="#2a2d36" textLength="12.5" lengthAdjust="spacingAndGlyphs">Aug</text>
<text x="811.8" y="527.8" font-size="7.00" fill="#2a2d36" textLength="4.0" lengthAdjust="spacingAndGlyphs">9</text>
<text x="869.5" y="527.8" font-size="7.00" fill="#15171e" font-weight="bold" textLength="15.5" lengthAdjust="spacingAndGlyphs">2024</text>
<text x="919.0" y="527.8" font-size="7.00" fill="#2a2d36" textLength="11.5" lengthAdjust="spacingAndGlyphs">Mar</text>
<text x="954.5" y="1.0" font-size="7.00" fill="#2a2d36" textLength="20.3" lengthAdjust="spacingAndGlyphs">35.000</text>
<text x="954.5" y="22.9" font-size="7.00" fill="#2a2d36" textLength="20.3" lengthAdjust="spacingAndGlyphs">30.000</text>
<text x="954.5" y="41.2" font-size="7.00" fill="#2a2d36" textLength="20.3" lengthAdjust="spacingAndGlyphs">26.000</text>
<text x="954.5" y="62.5" font-size="7.00" fill="#2a2d36" textLength="20.3" lengthAdjust="spacingAndGlyphs">22.000</text>
<text x="954.5" y="81.2" font-size="7.00" fill="#2a2d36" textLength="20.3" lengthAdjust="spacingAndGlyphs">19.000</text>
<text x="954.5" y="103.1" font-size="7.00" fill="#2a2d36" textLength="20.3" lengthAdjust="spacingAndGlyphs">16.000</text>
<text x="954.5" y="150.9" font-size="7.00" fill="#2a2d36" textLength="20.3" lengthAdjust="spacingAndGlyphs">11.000</text>
<text x="954.5" y="169.6" font-size="7.00" fill="#2a2d36" textLength="16.7" lengthAdjust="spacingAndGlyphs">9.500</text>
<text x="954.5" y="191.5" font-size="7.00" fill="#2a2d36" textLength="16.7" lengthAdjust="spacingAndGlyphs">8.000</text>
<text x="954.5" y="218.0" font-size="7.00" fill="#2a2d36" textLength="16.7" lengthAdjust="spacingAndGlyphs">6.500</text>
<text x="954.5" y="239.3" font-size="7.00" fill="#2a2d36" textLength="16.7" lengthAdjust="spacingAndGlyphs">5.500</text>
<text x="954.5" y="259.4" font-size="7.00" fill="#2a2d36" textLength="16.7" lengthAdjust="spacingAndGlyphs">4.700</text>
<text x="954.5" y="283.2" font-size="7.00" fill="#2a2d36" textLength="16.7" lengthAdjust="spacingAndGlyphs">3.900</text>
<text x="954.5" y="304.5" font-size="7.00" fill="#2a2d36" textLength="16.7" lengthAdjust="spacingAndGlyphs">3.300</text>
<text x="954.5" y="325.5" font-size="7.00" fill="#2a2d36" textLength="16.7" lengthAdjust="spacingAndGlyphs">2.800</text>
<text x="954.5" y="345.1" font-size="7.00" fill="#2a2d36" textLength="16.7" lengthAdjust="spacingAndGlyphs">2.400</text>
<text x="954.5" y="368.4" font-size="7.00" fill="#2a2d36" textLength="16.7" lengthAdjust="spacingAndGlyphs">2.000</text>
<text x="954.5" y="389.1" font-size="7.00" fill="#2a2d36" textLength="16.7" lengthAdjust="spacingAndGlyphs">1.700</text>
<text x="954.5" y="409.4" font-size="7.00" fill="#2a2d36" textLength="16.7" lengthAdjust="spacingAndGlyphs">1.450</text>
<text x="954.5" y="428.4" font-size="7.00" fill="#2a2d36" textLength="16.7" lengthAdjust="spacingAndGlyphs">1.250</text>
<text x="954.5" y="450.6" font-size="7.00" fill="#2a2d36" textLength="16.7" lengthAdjust="spacingAndGlyphs">1.050</text>
<text x="954.5" y="468.9" font-size="7.00" fill="#2a2d36" textLength="16.7" lengthAdjust="spacingAndGlyphs">0.910</text>
<text x="954.5" y="486.9" font-size="7.00" fill="#2a2d36" textLength="16.7" lengthAdjust="spacingAndGlyphs">0.790</text>
<text x="954.5" y="506.0" font-size="7.00" fill="#2a2d36" textLength="16.7" lengthAdjust="spacingAndGlyphs">0.680</text>
<rect x="931" y="37.8" width="47.5" height="9.2" fill="#e6eefa"/>
<text x="934.0" y="45.0" font-size="6.80" fill="#2a2d36" textLength="11.5" lengthAdjust="spacingAndGlyphs">High</text>
<text x="954.5" y="45.0" font-size="7.00" fill="#2a2d36" textLength="20.3" lengthAdjust="spacingAndGlyphs">25.306</text>
<rect x="931.5" y="504.1" width="42.8" height="9.8" fill="#e6eefa"/>
<text x="934.5" y="511.8" font-size="6.80" fill="#2a2d36" textLength="11.0" lengthAdjust="spacingAndGlyphs">Low</text>
<text x="954.5" y="511.8" font-size="7.00" fill="#2a2d36" textLength="16.7" lengthAdjust="spacingAndGlyphs">0.650</text>
<rect x="950" y="112.3" width="34" height="19.7" fill="#e6e9f0"/>
<rect x="950" y="113.1" width="34" height="18" fill="#20253a"/>
<text x="954.6" y="120.8" font-size="7.00" fill="#ffffff" font-weight="bold" textLength="20.4" lengthAdjust="spacingAndGlyphs">13.972</text>
<text x="954.6" y="129.1" font-size="6.70" fill="#f0f2f6" textLength="26.7" lengthAdjust="spacingAndGlyphs">10:57:55</text>
<path d="M922.2,25.5 H956 Q958,25.5 957.8,27.5 L957,37 Q956.8,39 954.8,39 H918.4 Q916.4,39 916.9,37 L919.8,27.3 Q920.3,25.5 922.2,25.5 Z" fill="#4be29d"/>
<text class="ar" direction="rtl" x="955.4" y="35.6" font-size="8.6" fill="#17352a" text-anchor="start" textLength="33.5" lengthAdjust="spacingAndGlyphs">آکادمی</text>
<text class="ar" direction="rtl" x="915.6" y="34.6" font-size="25" fill="#26282c" stroke="#26282c" stroke-width="0.25" text-anchor="start" textLength="30" lengthAdjust="spacingAndGlyphs">بیت</text>
<text class="ar" direction="rtl" x="882" y="34.6" font-size="25" fill="#26282c" stroke="#26282c" stroke-width="0.25" text-anchor="start" textLength="28.3" lengthAdjust="spacingAndGlyphs">پین</text>
<g>
<circle cx="824.5" cy="494.8" r="6.9" fill="#ffffff" fill-opacity="0.55"/>
<circle cx="824.5" cy="494.8" r="5.7" fill="#ffffff" stroke="#a02cc0" stroke-width="1.25"/>
<path d="M826.1,491.7 L822.2,495.6 H824.2 L822.9,498 L826.8,494 H824.8 Z" fill="#9c27b0" stroke="#9c27b0" stroke-width="0.35" stroke-linejoin="round"/>
<circle cx="830.5" cy="509.5" r="6.3" fill="#ffffff" fill-opacity="0.5"/>
<circle cx="830.5" cy="509.5" r="5.9" fill="#f23645"/>
<circle cx="830.5" cy="509.5" r="4.75" fill="#ffffff"/>
<clipPath id="fc0"><circle cx="830.5" cy="509.5" r="4.5"/></clipPath>
<g clip-path="url(#fc0)">
<rect x="830.5" y="506.2" width="5" height="1.3" fill="#f23645"/>
<rect x="830.5" y="508.8" width="5" height="1.3" fill="#f23645"/>
<rect x="825.5" y="511.7" width="10" height="1.4" fill="#f23645"/>
<rect x="825.5" y="504.5" width="5.6" height="5.7" fill="#3f8ef2"/>
</g>
<circle cx="823.9" cy="509.5" r="6.3" fill="#ffffff" fill-opacity="0.5"/>
<circle cx="823.9" cy="509.5" r="5.9" fill="#f23645"/>
<circle cx="823.9" cy="509.5" r="4.75" fill="#ffffff"/>
<clipPath id="fc1"><circle cx="823.9" cy="509.5" r="4.5"/></clipPath>
<g clip-path="url(#fc1)">
<rect x="823.9" y="506.2" width="5" height="1.3" fill="#f23645"/>
<rect x="823.9" y="508.8" width="5" height="1.3" fill="#f23645"/>
<rect x="818.9" y="511.7" width="10" height="1.4" fill="#f23645"/>
<rect x="818.9" y="504.5" width="5.6" height="5.7" fill="#3f8ef2"/>
</g>
</g>
</svg>
</body></html>
